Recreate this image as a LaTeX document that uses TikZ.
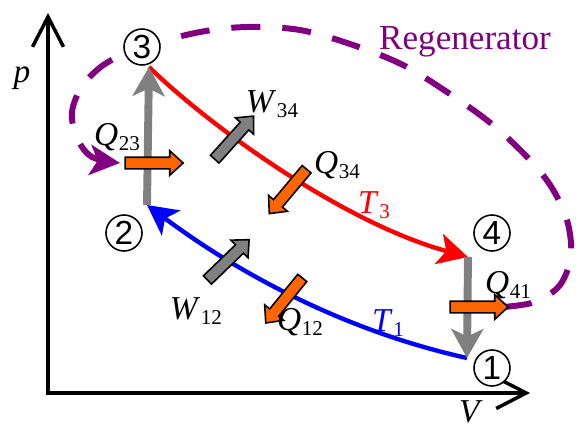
\documentclass[tikz,border=0pt]{standalone}
\usepackage{fontspec}
\setmainfont{Liberation Serif}
\setsansfont{Liberation Sans}
\usetikzlibrary{arrows.meta,shapes.arrows}
\definecolor{regen}{HTML}{800080}
\definecolor{heat}{HTML}{FF6600}
\definecolor{work}{HTML}{808080}
\newcommand{\qsub}[2]{\textit{#1}\kern0.02em\raisebox{-0.35ex}{\fontsize{12}{12}\selectfont #2}}

\begin{document}
\begin{tikzpicture}[x=0.02cm,y=-0.02cm,font=\fontsize{19}{22}\selectfont,
  axis/.style={line width=2pt,{Straight Barb[length=0.6cm,width=0.62cm]}-{Straight Barb[length=0.6cm,width=0.62cm]}},
  state/.style={circle,draw,fill=white,line width=0.9pt,minimum size=0.72cm,inner sep=0pt,font=\sffamily\fontsize{19}{19}\selectfont},
  process/.style={work,line width=4.5pt,-{Stealth[length=0.58cm,width=0.64cm,inset=0.15cm]}},
  iso/.style={line width=2.5pt,-{Stealth[length=0.6cm,width=0.62cm,inset=0.15cm]}},
  regline/.style={regen,line width=3.4pt,dash pattern=on 0.58cm off 0.44cm,-{Stealth[length=0.6cm,width=0.6cm,inset=0.15cm]}},
  heatflow/.style={single arrow,draw,fill=heat,line width=0.9pt,minimum height=1.16cm,minimum width=0.46cm,
    single arrow head extend=0.13cm,single arrow tip angle=85,inner sep=0.1cm},
  workflow/.style={heatflow,fill=work}]
\useasboundingbox (0,0) rectangle (576,430);

% axes
\coordinate (ytip) at (48,13);
\coordinate (orig) at (48,393);
\coordinate (xtip) at (530,393);
\draw[axis] (ytip) -- (orig) -- (xtip);
\node (plab) at (22,78) {\textit{p}};
\node[anchor=base,inner sep=0pt] (vlab) at (471,422) {\textit{V}};

% regenerator loop
\draw[regline] plot[smooth,tension=0.55] coordinates {(503,307) (535,302) (560,285) (571,255) (567,220) (552,188) (530,160) (493,125) (450,94) (403,65) (353,45) (300,30) (247,27) (200,32) (150,45) (108,62) (83,85) (72,112) (77,138) (92,157) (120,163)};
\node[text=regen] (reglab) at (465,42) {\fontsize{20}{22}\selectfont Regenerator};

% cycle corners
\coordinate (s1) at (467,358);
\coordinate (s2) at (147,205);
\coordinate (s3) at (149,67);
\coordinate (s4) at (468,257);
\draw[iso,red] (s3) .. controls (205,122) and (340,222) .. (s4);
\draw[iso,blue] (s1) .. controls (350,332) and (245,278) .. (s2);
\draw[process] (s2) -- (s3);
\draw[process] (s4) -- (s1);

\node[state] (n3) at (142,47) {3};
\node[state] (n2) at (124,233) {2};
\node[state] (n4) at (492,233) {4};
\node[state] (n1) at (492,368) {1};

% heat and work
\node[heatflow] (q23) at (151,163) {};
\node[heatflow] (q41) at (476,307) {};
\node[heatflow,rotate=230] (q34) at (290,189) {};
\node[heatflow,rotate=231] (q12) at (286,298) {};
\node[workflow,rotate=48] (w34) at (232,140) {};
\node[workflow,rotate=44] (w12) at (226,262) {};

\node (q23lab) at (117,137) {\qsub{Q}{23}};
\node (w34lab) at (272,104) {\qsub{W}{34}};
\node (q34lab) at (337,165) {\qsub{Q}{34}};
\node[red] (t3lab) at (374,205) {\qsub{T}{3}};
\node[blue] (t1lab) at (388,323) {\qsub{T}{1}};
\node (q41lab) at (508,285) {\qsub{Q}{41}};
\node (q12lab) at (300,322) {\qsub{Q}{12}};
\node (w12lab) at (196,311) {\qsub{W}{12}};
\end{tikzpicture}
\end{document}
